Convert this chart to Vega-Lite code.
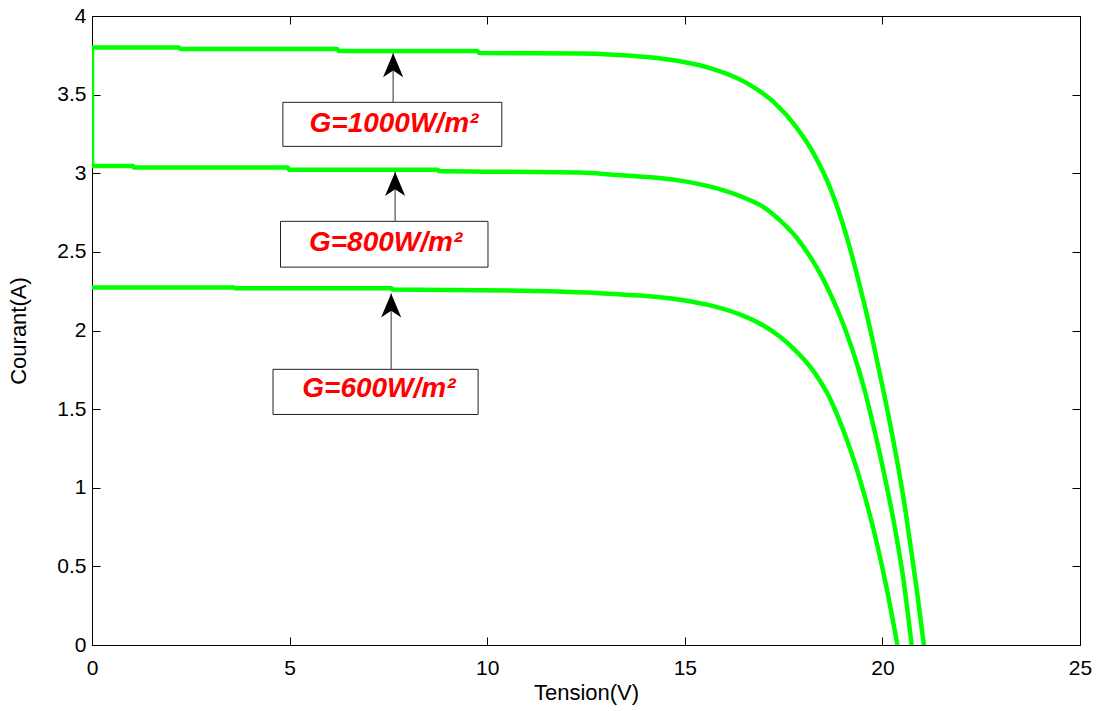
{
  "$schema": "https://vega.github.io/schema/vega-lite/v6.json",
  "width": 988,
  "height": 629,
  "autosize": {"type": "none"},
  "padding": {"left": 92, "top": 16, "right": 23, "bottom": 66},
  "background": "white",
  "config": {
    "view": {"stroke": null},
    "axis": {
      "domainColor": "#000000",
      "domainWidth": 1,
      "tickColor": "#000000",
      "tickWidth": 1,
      "labelFont": "Liberation Sans",
      "labelFontSize": 21,
      "labelColor": "#000000",
      "titleFont": "Liberation Sans",
      "titleFontSize": 22,
      "titleFontWeight": "normal",
      "titleColor": "#000000",
      "grid": false
    }
  },
  "datasets": {
    "curves": [
      {"G": "1000", "V": 0, "I": 3.04},
      {"G": "1000", "V": 0, "I": 3.80},
      {"G": "1000", "V": 2.2, "I": 3.80},
      {"G": "1000", "V": 2.25, "I": 3.79},
      {"G": "1000", "V": 6.2, "I": 3.79},
      {"G": "1000", "V": 6.25, "I": 3.777},
      {"G": "1000", "V": 9.75, "I": 3.777},
      {"G": "1000", "V": 9.8, "I": 3.765},
      {"G": "1000", "V": 12.35, "I": 3.761},
      {"G": "1000", "V": 13.19, "I": 3.754},
      {"G": "1000", "V": 14.04, "I": 3.739},
      {"G": "1000", "V": 14.88, "I": 3.712},
      {"G": "1000", "V": 15.72, "I": 3.662},
      {"G": "1000", "V": 16.56, "I": 3.575},
      {"G": "1000", "V": 17.24, "I": 3.455},
      {"G": "1000", "V": 17.83, "I": 3.29},
      {"G": "1000", "V": 18.25, "I": 3.13},
      {"G": "1000", "V": 18.67, "I": 2.912},
      {"G": "1000", "V": 19.10, "I": 2.594},
      {"G": "1000", "V": 19.35, "I": 2.361},
      {"G": "1000", "V": 19.56, "I": 2.149},
      {"G": "1000", "V": 19.81, "I": 1.873},
      {"G": "1000", "V": 20.06, "I": 1.576},
      {"G": "1000", "V": 20.40, "I": 1.131},
      {"G": "1000", "V": 20.57, "I": 0.877},
      {"G": "1000", "V": 20.66, "I": 0.72},
      {"G": "1000", "V": 20.86, "I": 0.37},
      {"G": "1000", "V": 21.05, "I": 0},
      {"G": "800", "V": 0, "I": 3.046},
      {"G": "800", "V": 1.04, "I": 3.046},
      {"G": "800", "V": 1.06, "I": 3.036},
      {"G": "800", "V": 4.96, "I": 3.036},
      {"G": "800", "V": 4.98, "I": 3.023},
      {"G": "800", "V": 8.75, "I": 3.023},
      {"G": "800", "V": 8.77, "I": 3.014},
      {"G": "800", "V": 12.35, "I": 3.004},
      {"G": "800", "V": 13.19, "I": 2.991},
      {"G": "800", "V": 14.04, "I": 2.976},
      {"G": "800", "V": 14.88, "I": 2.953},
      {"G": "800", "V": 15.72, "I": 2.91},
      {"G": "800", "V": 16.56, "I": 2.838},
      {"G": "800", "V": 16.99, "I": 2.785},
      {"G": "800", "V": 17.41, "I": 2.70},
      {"G": "800", "V": 17.83, "I": 2.59},
      {"G": "800", "V": 18.17, "I": 2.47},
      {"G": "800", "V": 18.42, "I": 2.365},
      {"G": "800", "V": 18.76, "I": 2.19},
      {"G": "800", "V": 19.10, "I": 1.98},
      {"G": "800", "V": 19.39, "I": 1.76},
      {"G": "800", "V": 19.55, "I": 1.62},
      {"G": "800", "V": 19.69, "I": 1.48},
      {"G": "800", "V": 19.94, "I": 1.21},
      {"G": "800", "V": 20.15, "I": 0.96},
      {"G": "800", "V": 20.32, "I": 0.74},
      {"G": "800", "V": 20.53, "I": 0.42},
      {"G": "800", "V": 20.74, "I": 0},
      {"G": "600", "V": 0, "I": 2.274},
      {"G": "600", "V": 3.6, "I": 2.274},
      {"G": "600", "V": 3.62, "I": 2.268},
      {"G": "600", "V": 7.58, "I": 2.268},
      {"G": "600", "V": 7.6, "I": 2.26},
      {"G": "600", "V": 10.5, "I": 2.255},
      {"G": "600", "V": 11.6, "I": 2.249},
      {"G": "600", "V": 12.85, "I": 2.237},
      {"G": "600", "V": 13.87, "I": 2.222},
      {"G": "600", "V": 14.88, "I": 2.196},
      {"G": "600", "V": 15.72, "I": 2.155},
      {"G": "600", "V": 16.56, "I": 2.085},
      {"G": "600", "V": 17.0, "I": 2.03},
      {"G": "600", "V": 17.41, "I": 1.96},
      {"G": "600", "V": 17.75, "I": 1.885},
      {"G": "600", "V": 18.17, "I": 1.77},
      {"G": "600", "V": 18.42, "I": 1.68},
      {"G": "600", "V": 18.63, "I": 1.59},
      {"G": "600", "V": 18.76, "I": 1.52},
      {"G": "600", "V": 19.10, "I": 1.305},
      {"G": "600", "V": 19.35, "I": 1.12},
      {"G": "600", "V": 19.56, "I": 0.94},
      {"G": "600", "V": 19.81, "I": 0.70},
      {"G": "600", "V": 20.1, "I": 0.37},
      {"G": "600", "V": 20.38, "I": 0}
    ],
    "notes": [
      {"G": "1000", "bx1": 4.83, "bx2": 10.37, "by1": 3.171, "by2": 3.451, "tx": 7.64, "ty": 3.311, "ax": 7.62, "ay1": 3.453, "ay2": 3.763, "label": "G=1000W/m²"},
      {"G": "800", "bx1": 4.77, "bx2": 10.02, "by1": 2.403, "by2": 2.694, "tx": 7.43, "ty": 2.555, "ax": 7.67, "ay1": 2.694, "ay2": 3.008, "label": "G=800W/m²"},
      {"G": "600", "bx1": 4.58, "bx2": 9.77, "by1": 1.466, "by2": 1.753, "tx": 7.26, "ty": 1.625, "ax": 7.57, "ay1": 1.753, "ay2": 2.236, "label": "G=600W/m²"}
    ]
  },
  "layer": [
    {
      "data": {"name": "curves"},
      "mark": {"type": "line", "color": "#00ff00", "strokeWidth": 4.5, "clip": true, "strokeJoin": "round", "interpolate": "monotone"},
      "encoding": {
        "x": {"field": "V", "type": "quantitative", "scale": {"domain": [0, 25], "nice": false, "zero": false},
          "axis": {"orient": "bottom", "title": "Tension(V)", "values": [0, 5, 10, 15, 20, 25], "tickSize": -8, "labelPadding": 20, "labelFlush": false, "labelOverlap": false, "titlePadding": 4, "format": "~g"}},
        "y": {"field": "I", "type": "quantitative", "scale": {"domain": [0, 4], "nice": false, "zero": false},
          "axis": {"orient": "left", "title": "Courant(A)", "values": [0, 0.5, 1, 1.5, 2, 2.5, 3, 3.5, 4], "tickSize": -8, "labelPadding": 14, "labelFlush": false, "labelOverlap": false, "titlePadding": 26, "format": "~g"}},
        "detail": {"field": "G"},
        "order": {"value": null}
      }
    },
    {
      "data": {"name": "notes"},
      "mark": {"type": "rect", "fill": "white", "stroke": "#222222", "strokeWidth": 1},
      "encoding": {
        "x": {"field": "bx1", "type": "quantitative", "scale": {"domain": [0, 25], "nice": false, "zero": false},
          "axis": {"orient": "top", "labels": false, "title": null, "values": [0, 5, 10, 15, 20, 25], "tickSize": -8}},
        "x2": {"field": "bx2"},
        "y": {"field": "by1", "type": "quantitative", "scale": {"domain": [0, 4], "nice": false, "zero": false},
          "axis": {"orient": "right", "labels": false, "title": null, "values": [0, 0.5, 1, 1.5, 2, 2.5, 3, 3.5, 4], "tickSize": -8}},
        "y2": {"field": "by2"}
      }
    },
    {
      "data": {"name": "notes"},
      "mark": {"type": "rule", "color": "#606060", "strokeWidth": 1.3},
      "encoding": {
        "x": {"field": "ax", "type": "quantitative", "axis": null},
        "y": {"field": "ay1", "type": "quantitative", "axis": null},
        "y2": {"field": "ay2"}
      }
    },
    {
      "data": {"name": "notes"},
      "mark": {"type": "point", "shape": "M0,0 L0.42,1 L0,0.72 L-0.42,1 Z", "size": 2304, "filled": true, "color": "#000000", "opacity": 1, "strokeWidth": 0},
      "encoding": {
        "x": {"field": "ax", "type": "quantitative", "axis": null},
        "y": {"field": "ay2", "type": "quantitative", "axis": null}
      }
    },
    {
      "data": {"name": "notes"},
      "mark": {"type": "text", "font": "Liberation Sans", "fontSize": 28, "fontWeight": "bold", "fontStyle": "italic", "color": "#ff0000", "align": "center", "baseline": "middle"},
      "encoding": {
        "x": {"field": "tx", "type": "quantitative", "axis": null},
        "y": {"field": "ty", "type": "quantitative", "axis": null},
        "text": {"field": "label"}
      }
    }
  ],
  "resolve": {"axis": {"x": "independent", "y": "independent"}}
}
